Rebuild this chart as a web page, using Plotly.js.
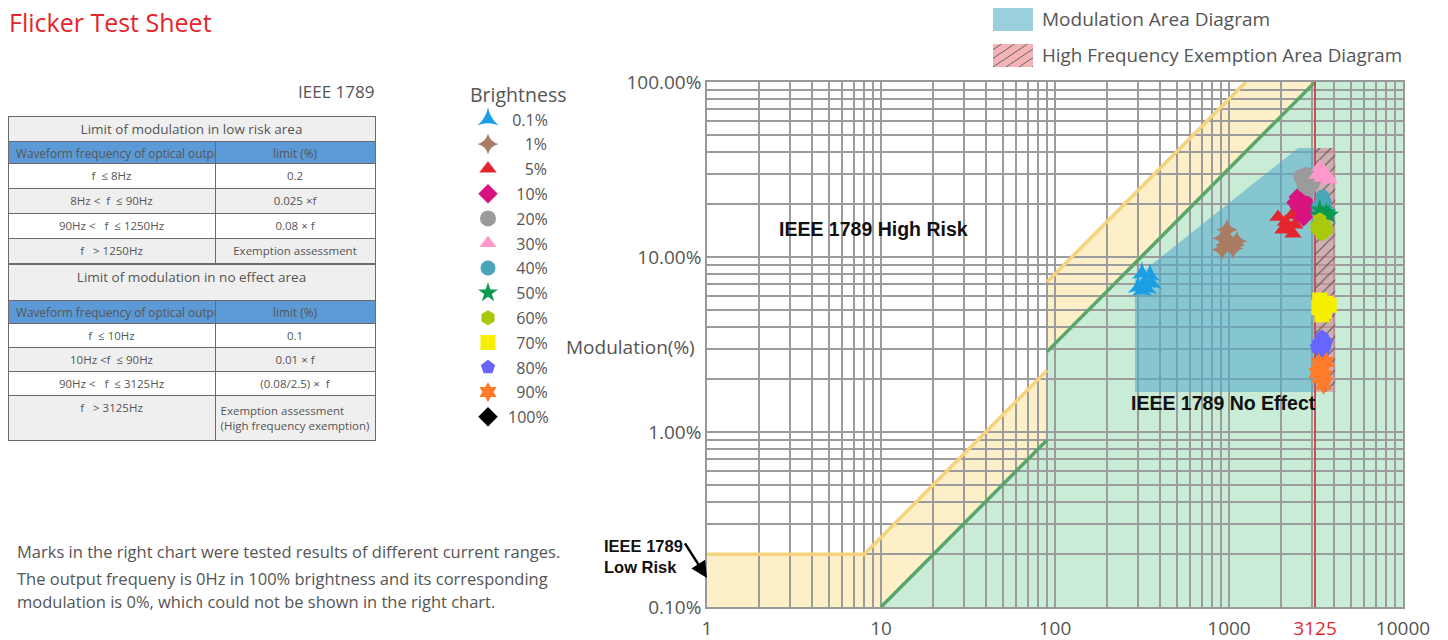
<!DOCTYPE html>
<html><head><meta charset="utf-8">
<script src="https://cdn.plot.ly/plotly-3.0.1.min.js"></script>
<style>html,body{margin:0;padding:0;background:#fff;}#chart{width:1448px;height:640px;}</style>
</head><body><div id="chart"></div>
<script>
// ================= DATA =================
const xTickVals = [1, 10, 100, 1000, 3125, 10000];
const xTickText = ['1', '10', '100', '1000', '3125', '10000'];
const yTickVals = [0.1, 1, 10, 100];
const yTickText = ['0.10%', '1.00%', '10.00%', '100.00%'];
const freqRange = [1, 10000];
const modRange = [0.1, 100];
const exemptionFreq = 3125;

// IEEE 1789 limits (frequency Hz, modulation %)
const lowRiskFreq  = [1, 8, 90, 90, 1250];
const lowRiskLimit = [0.2, 0.2, 2.25, 7.2, 100];
const noEffectFreq  = [10, 90, 90, 3125];
const noEffectLimit = [0.1, 0.9, 2.88, 100];

// Modulation area and high-frequency exemption area
const modAreaFreq = [288, 288, 2500, 3125, 3125];
const modAreaPct  = [1.69, 7.6, 42, 42, 1.69];
const exemptAreaFreq = [3125, 4080, 4080, 3125];
const exemptAreaPct  = [42, 42, 1.69, 1.69];

// Brightness series
const brightnessNames = ['0.1%', '1%', '5%', '10%', '20%', '30%', '40%', '50%', '60%', '70%', '80%', '90%', '100%'];
const b01F = [316, 352, 329, 361, 300, 338, 316];
const b01M = [8.1, 7.9, 7.2, 7.1, 6.74, 6.66, 6.47];
const b1F = [974, 924, 987, 949, 912, 1081, 1109, 1053];
const b1M = [14.3, 12.8, 12.6, 11.7, 11.0, 11.7, 12.3, 11.2];
const b5F = [1910, 2108, 2294, 2390, 2040, 2330, 2200];
const b5M = [16.9, 15.85, 17.3, 15.3, 14.3, 13.6, 14.5];
const b10F = [2500, 2677, 2792, 2530, 2716, 2677, 2426];
const b10M = [22.0, 21.2, 19.8, 19.3, 18.1, 16.9, 20.5];
const b20F = [2602, 2792, 2912, 2716, 2870, 2996];
const b20M = [28.7, 29.4, 27.6, 25.8, 24.7, 26.4];
const b30F = [3322, 3533, 3712, 3420, 3203, 3770];
const b30M = [32.7, 30.6, 28.7, 28.3, 29.4, 27.6];
const b40F = [3450, 3533, 3322, 3712, 3490, 3280];
const b40M = [22.0, 20.5, 18.6, 17.9, 17.4, 19.3];
const b50F = [3322, 3621, 3490, 3770, 3280];
const b50M = [18.6, 17.9, 16.9, 17.4, 17.4];
const b60F = [3322, 3533, 3280, 3621, 3420, 3203];
const b60M = [16.3, 15.2, 14.3, 14.3, 13.6, 14.9];
const b70F = [3322, 3621, 3280, 3533, 3420, 3770];
const b70M = [5.68, 5.46, 5.14, 4.88, 4.67, 5.3];
const b80F = [3420, 3621, 3280, 3533, 3420, 3203];
const b80M = [3.49, 3.27, 3.22, 3.02, 2.86, 3.06];
const b90F = [3280, 3621, 3420, 3203, 3533, 3490, 3322];
const b90M = [2.48, 2.51, 2.23, 2.17, 2.12, 1.86, 2.04];
const b100F = [0];   // 0 Hz, 0 % : cannot be shown on log axes
const b100M = [0];

// Table texts
const tableLowTitle = 'Limit of modulation in low risk area';
const tableNoTitle = 'Limit of modulation in no effect area';
const tableHeader = ['Waveform frequency of optical output', 'limit (%)'];
const lowRiskFreqText = ['f  ≤ 8Hz', '8Hz <  f  ≤ 90Hz', '90Hz <   f  ≤ 1250Hz', 'f   > 1250Hz'];
const lowRiskLimitText = ['0.2', '0.025 ×f', '0.08 × f', 'Exemption assessment'];
const noEffectFreqText = ['f  ≤ 10Hz', '10Hz <f  ≤ 90Hz', '90Hz <   f  ≤ 3125Hz', 'f   > 3125Hz'];
const noEffectLimitText = ['0.1', '0.01 × f', '(0.08/2.5) ×  f', 'Exemption assessment<br>(High frequency exemption)'];

// ================= STYLE / BUILD =================
const W = 1448, H = 640;
const px = v => v / W, py = v => 1 - v / H;
const FONT = 'Open Sans, Noto Sans, sans-serif';
const BOLD = 'Liberation Sans, Arial, sans-serif';
const GREY = '#555555';

const seriesF = [b01F, b1F, b5F, b10F, b20F, b30F, b40F, b50F, b60F, b70F, b80F, b90F, b100F];
const seriesM = [b01M, b1M, b5M, b10M, b20M, b30M, b40M, b50M, b60M, b70M, b80M, b90M, b100M];
const colors = ['#1a9ee6', '#a97c63', '#e3262d', '#d8137f', '#9b9b9b', '#ff99cc', '#48a6b8', '#0b9a4c', '#a9c90b', '#f7ef00', '#6666ff', '#ff7b2a', '#000000'];
const symbols = ['star-triangle-up', 'star-diamond', 'triangle-up', 'diamond', 'circle', 'triangle-up', 'circle', 'star', 'hexagon', 'square', 'pentagon', 'hexagram', 'diamond'];

function padLabel(s) {
  let units = 0;
  for (const c of s) { if (/[0-9]/.test(c)) units += 2; else if (c === '.') units += 1; }
  return '\u00a0'.repeat(Math.max(0, 6 - units)) + s;
}
function pathFrom(xs, ys) {
  return xs.map((x, i) => (i ? 'L' : 'M') + x + ',' + ys[i]).join(' ') + ' Z';
}
function withBreak(arr, at) { return arr.slice(0, at).concat([null], arr.slice(at)); }
const noWrap = s => s.replace(/ /g, '\u00a0');

const traces = [];

// modulation area (blue, translucent, above grid)
traces.push({
  type: 'scatter', x: modAreaFreq.concat([modAreaFreq[0]]), y: modAreaPct.concat([modAreaPct[0]]),
  mode: 'lines', fill: 'toself', fillcolor: 'rgba(84,170,204,0.58)', line: { width: 0, color: 'rgba(0,0,0,0)' },
  hoverinfo: 'skip', showlegend: false
});
// high-frequency exemption area (hatched pink)
traces.push({
  type: 'scatter', x: exemptAreaFreq.concat([exemptAreaFreq[0]]), y: exemptAreaPct.concat([exemptAreaPct[0]]),
  mode: 'lines', fill: 'toself', fillcolor: 'rgba(212,135,150,0.6)',
  fillpattern: { shape: '/', bgcolor: 'rgba(212,135,150,0.6)', fgcolor: '#555', size: 8, solidity: 0.14 },
  line: { width: 0, color: 'rgba(0,0,0,0)' }, hoverinfo: 'skip', showlegend: false
});
// boundary lines
traces.push({
  type: 'scatter', x: withBreak(lowRiskFreq, 3), y: withBreak(lowRiskLimit, 3), mode: 'lines',
  line: { color: '#f7d27c', width: 3.5 }, hoverinfo: 'skip', showlegend: false, connectgaps: false
});
traces.push({
  type: 'scatter', x: withBreak(noEffectFreq, 2), y: withBreak(noEffectLimit, 2), mode: 'lines',
  line: { color: '#5aa66a', width: 3.5 }, hoverinfo: 'skip', showlegend: false, connectgaps: false
});
traces.push({
  type: 'scatter', x: [exemptionFreq, exemptionFreq], y: modRange, mode: 'lines',
  line: { color: '#ee3030', width: 1.5 }, hoverinfo: 'skip', showlegend: false
});

// brightness markers
brightnessNames.forEach((n, i) => {
  traces.push({
    type: 'scatter', mode: 'markers', x: seriesF[i], y: seriesM[i], name: padLabel(n),
    legendgroup: 'g' + i,
    marker: { symbol: symbols[i], color: colors[i], size: i === 4 ? 16 : 15, line: { width: 0 } },
    hovertemplate: n + ': %{x} Hz, %{y}%<extra></extra>'
  });
});

// tables
const tblX = [px(8), px(375)];
const tblFont = { family: FONT, size: 11.5, color: GREY };
const rowFill = ['#ffffff', '#efefef', '#ffffff', '#efefef'];
const LINE = { color: '#6a6a6a', width: 1 };
function titleTable(text, top, h) {
  return {
    type: 'table', domain: { x: tblX, y: [py(top + h + 6), py(top)] }, columnwidth: [1],
    header: { values: [noWrap(text)], height: h, align: 'center', fill: { color: '#efefef' },
      line: LINE, font: { family: FONT, size: 13.5, color: GREY } },
    cells: { values: [[]], height: 20 }
  };
}
// plain (markup-free) texts go in as cell prefix so that the row keeps its fixed height
function cellParts(texts) {
  return {
    val: texts.map(t => /<br>/i.test(t) ? t : ''),
    pre: texts.map(t => /<br>/i.test(t) ? '' : noWrap(t))
  };
}
function bodyTable(fText, lText, top, bottom, hh, ch) {
  const a = cellParts(fText), b = cellParts(lText);
  return {
    type: 'table', domain: { x: tblX, y: [py(bottom + 24), py(top)] }, columnwidth: [207, 160],
    header: { values: tableHeader.map(noWrap), height: hh, align: ['left', 'center'], fill: { color: '#5b9ad6' },
      line: LINE, font: { family: FONT, size: 11.8, color: GREY } },
    cells: { values: [a.val, b.val], prefix: [a.pre, b.pre], height: ch, align: 'center',
      fill: { color: [rowFill, rowFill] }, line: LINE, font: tblFont }
  };
}
traces.push(titleTable(tableLowTitle, 116, 25));
traces.push(bodyTable(lowRiskFreqText, lowRiskLimitText, 141, 264, 22, 25));
traces.push(titleTable(tableNoTitle, 264, 36));
traces.push(bodyTable(noEffectFreqText, noEffectLimitText, 300, 427, 23, 24));

// background regions as shapes below the grid
const yellowX = [freqRange[0]].concat(lowRiskFreq, [freqRange[1], freqRange[1]]);
const yellowY = [modRange[0]].concat(lowRiskLimit, [modRange[1], modRange[0]]);
const greenX = noEffectFreq.concat([freqRange[1], freqRange[1]]);
const greenY = noEffectLimit.concat([modRange[1], modRange[0]]);
const shapes = [
  { type: 'path', xref: 'x', yref: 'y', layer: 'below', path: pathFrom(yellowX, yellowY), fillcolor: '#fdf0c9', line: { width: 0 } },
  { type: 'path', xref: 'x', yref: 'y', layer: 'below', path: pathFrom(greenX, greenY), fillcolor: '#c8ecd6', line: { width: 0 } },
  // top-right legend swatches
  { type: 'rect', xref: 'paper', yref: 'paper', x0: px(993), x1: px(1033), y0: py(31), y1: py(8), fillcolor: '#9bcfdc', line: { width: 0 } },
  { type: 'rect', xref: 'paper', yref: 'paper', x0: px(993), x1: px(1033), y0: py(67), y1: py(44), fillcolor: '#f4b3b5', line: { width: 0 } }
];
// hatch lines in swatch
(function () {
  const L = 993, R = 1033, T = 44, B = 67, k = 1.5;
  for (let b = 967; b <= 1032; b += 13) {
    let x0 = b, y0 = B, x1 = b + (B - T) * k, y1 = T;
    if (x0 < L) { y0 = B - (L - x0) / k; x0 = L; }
    if (x1 > R) { y1 = T + (x1 - R) / k; x1 = R; }
    shapes.push({ type: 'line', xref: 'paper', yref: 'paper', x0: px(x0), y0: py(y0), x1: px(x1), y1: py(y1), line: { color: '#666', width: 1 } });
  }
})();

const annoBase = { showarrow: false, xref: 'paper', yref: 'paper' };
const annotations = [
  Object.assign({}, annoBase, { text: 'Flicker Test Sheet', x: px(7), y: py(22), xanchor: 'left', yanchor: 'middle', font: { family: FONT, size: 25, color: '#e3262c' } }),
  Object.assign({}, annoBase, { text: 'IEEE 1789', x: px(376), y: py(91), xanchor: 'right', yanchor: 'middle', font: { family: FONT, size: 17, color: GREY } }),
  Object.assign({}, annoBase, { text: 'Modulation(%)', x: px(697), y: py(347), xanchor: 'right', yanchor: 'middle', font: { family: FONT, size: 19, color: GREY } }),
  Object.assign({}, annoBase, { text: 'Modulation Area Diagram', x: px(1040), y: py(19), xanchor: 'left', yanchor: 'middle', font: { family: FONT, size: 19, color: GREY } }),
  Object.assign({}, annoBase, { text: 'High Frequency Exemption Area Diagram', x: px(1040), y: py(55), xanchor: 'left', yanchor: 'middle', font: { family: FONT, size: 18.8, color: GREY } }),
  Object.assign({}, annoBase, { text: 'Marks in the right chart were tested results of different current ranges.', x: px(15), y: py(551), xanchor: 'left', yanchor: 'middle', font: { family: FONT, size: 16.5, color: GREY } }),
  Object.assign({}, annoBase, { text: 'The output frequeny is 0Hz in 100% brightness and its corresponding', x: px(15), y: py(578), xanchor: 'left', yanchor: 'middle', font: { family: FONT, size: 16.5, color: GREY } }),
  Object.assign({}, annoBase, { text: 'modulation is 0%, which could not be shown in the right chart.', x: px(15), y: py(601), xanchor: 'left', yanchor: 'middle', font: { family: FONT, size: 16.5, color: GREY } }),
  { xref: 'x', yref: 'y', x: Math.log10(9.0), y: Math.log10(14.5), showarrow: false, text: '<b>IEEE 1789 High Risk</b>', font: { family: BOLD, size: 19.5, color: '#111' } },
  { xref: 'x', yref: 'y', x: Math.log10(924), y: Math.log10(1.47), showarrow: false, text: '<b>IEEE 1789 No Effect</b>', font: { family: BOLD, size: 19.5, color: '#111' } },
  Object.assign({}, annoBase, { text: '<b>IEEE 1789<br>Low Risk</b>', x: px(602), y: py(556), xanchor: 'left', yanchor: 'middle', align: 'left', font: { family: BOLD, size: 16.5, color: '#111' } }),
  { xref: 'x', yref: 'y', x: Math.log10(1.0), y: Math.log10(0.1466), showarrow: true, text: '', ax: -23, ay: -36,
    arrowhead: 2, arrowsize: 1.3, arrowwidth: 2.5, arrowcolor: '#000', standoff: 0 }
];

const gridC = '#9c9c9c';
const axisCommon = {
  type: 'log', tickmode: 'array', ticks: '', showgrid: true, gridcolor: gridC, gridwidth: 1.5,
  minor: { dtick: 'D1', showgrid: true, gridcolor: gridC, gridwidth: 1.5, ticks: '' },
  showline: true, linecolor: '#999999', linewidth: 1.5, mirror: true, zeroline: false,
  tickfont: { family: FONT, size: 19, color: GREY }, automargin: false, fixedrange: true
};
const layout = {
  width: W, height: H, margin: { l: 0, r: 0, t: 0, b: 0 },
  paper_bgcolor: '#ffffff', plot_bgcolor: '#ffffff',
  font: { family: FONT, color: GREY },
  xaxis: Object.assign({}, axisCommon, {
    range: [Math.log10(freqRange[0]), Math.log10(freqRange[1])], domain: [px(707), px(1403)],
    tickvals: xTickVals, ticklabelstandoff: 3,
    ticktext: xTickText.map(t => +t === exemptionFreq ? '<span style="color:#e8282e">' + t + '</span>' : t)
  }),
  yaxis: Object.assign({}, axisCommon, {
    range: [Math.log10(modRange[0]), Math.log10(modRange[1])], domain: [py(607), py(82)],
    tickvals: yTickVals, ticktext: yTickText
  }),
  legend: {
    x: px(468), y: py(77), xanchor: 'left', yanchor: 'top', bgcolor: 'rgba(0,0,0,0)',
    font: { family: FONT, size: 16, color: GREY }, title: { text: 'Brightness', font: { family: FONT, size: 19.5, color: GREY } },
    traceorder: 'grouped', tracegroupgap: 1, itemsizing: 'trace'
  },
  shapes: shapes,
  annotations: annotations,
  hovermode: 'closest'
};
Plotly.newPlot('chart', traces, layout, { displayModeBar: false, responsive: false });
</script>
</body></html>
